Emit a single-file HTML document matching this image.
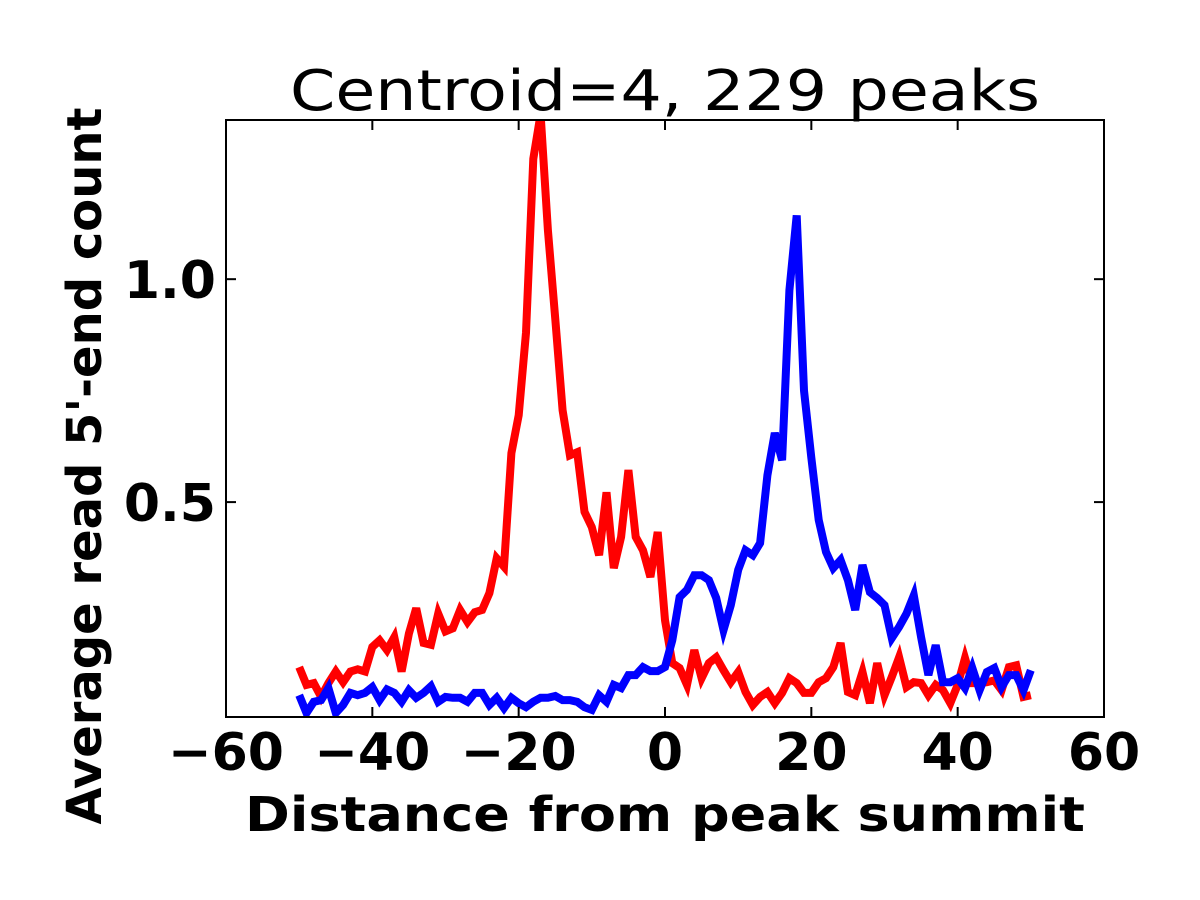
<!DOCTYPE html>
<html><head><meta charset="utf-8"><style>
html,body{margin:0;padding:0;background:#fff;}
svg{display:block;font-family:"DejaVu Sans","Liberation Sans",sans-serif;}
</style></head>
<body>
<svg id="chart" width="1200" height="900" viewBox="0 0 1200 900" xmlns="http://www.w3.org/2000/svg">
<rect width="1200" height="900" fill="#fff"/>
<text x="665" y="110" font-size="56" text-anchor="middle" textLength="750" lengthAdjust="spacingAndGlyphs">Centroid=4, 229 peaks</text>
<g id="plot"></g>
<rect x="226" y="120" width="878" height="597" fill="none" stroke="#000" stroke-width="2"/>
<text x="665" y="831" font-size="48" font-weight="bold" text-anchor="middle" textLength="840" lengthAdjust="spacingAndGlyphs">Distance from peak summit</text>
<text transform="translate(101,466) rotate(-90)" font-size="48" font-weight="bold" text-anchor="middle" textLength="717" lengthAdjust="spacingAndGlyphs">Average read 5'-end count</text>
</svg>
<script>
const xs = [];
for (let i = -50; i <= 50; i++) xs.push(i);
const redValues = [0.13,0.09,0.094,0.063,0.094,0.12,0.096,0.12,0.125,0.12,0.175,0.19,0.168,0.197,0.12,0.205,0.262,0.184,0.18,0.25,0.21,0.217,0.258,0.231,0.253,0.258,0.296,0.374,0.355,0.61,0.695,0.88,1.27,1.37,1.11,0.91,0.706,0.605,0.612,0.478,0.444,0.381,0.522,0.352,0.422,0.572,0.422,0.392,0.332,0.433,0.235,0.139,0.128,0.09,0.168,0.105,0.139,0.152,0.123,0.096,0.119,0.074,0.045,0.063,0.074,0.049,0.072,0.105,0.094,0.072,0.072,0.096,0.105,0.13,0.184,0.074,0.067,0.119,0.049,0.139,0.067,0.108,0.152,0.085,0.096,0.094,0.067,0.09,0.078,0.049,0.09,0.15,0.094,0.094,0.096,0.1,0.078,0.13,0.134,0.063,0.067];
const blueValues = [0.067,0.027,0.052,0.056,0.083,0.027,0.045,0.072,0.067,0.072,0.085,0.056,0.08,0.072,0.052,0.078,0.061,0.072,0.087,0.052,0.063,0.061,0.061,0.052,0.072,0.072,0.045,0.061,0.038,0.061,0.049,0.04,0.052,0.061,0.061,0.065,0.056,0.056,0.052,0.04,0.034,0.067,0.052,0.09,0.083,0.112,0.112,0.13,0.121,0.121,0.13,0.19,0.287,0.303,0.336,0.336,0.325,0.285,0.213,0.269,0.348,0.392,0.381,0.408,0.56,0.655,0.594,0.975,1.143,0.75,0.6,0.46,0.388,0.352,0.37,0.325,0.258,0.359,0.298,0.285,0.269,0.195,0.22,0.25,0.291,0.197,0.112,0.179,0.096,0.096,0.105,0.083,0.128,0.078,0.119,0.128,0.085,0.112,0.112,0.078,0.123];
const xTicks = [-60,-40,-20,0,20,40,60];
const xTickLabels = ["\u221260","\u221240","\u221220","0","20","40","60"];
const yTicks = [0.5,1.0];
const yTickLabels = ["0.5","1.0"];

const L=226,R=1104,T=120,B=717;
const xMin=-60,xMax=60,yMin=0.018,yMax=1.357;
const sx=v=>L+(v-xMin)/(xMax-xMin)*(R-L);
const sy=v=>B-(v-yMin)/(yMax-yMin)*(B-T);
const NS="http://www.w3.org/2000/svg";
const svg=document.getElementById('chart');
const plot=document.getElementById('plot');

const defs=document.createElementNS(NS,'defs');
const cp=document.createElementNS(NS,'clipPath');cp.setAttribute('id','clip');
const cr=document.createElementNS(NS,'rect');
cr.setAttribute('x',L);cr.setAttribute('y',T);cr.setAttribute('width',R-L);cr.setAttribute('height',B-T);
cp.appendChild(cr);defs.appendChild(cp);svg.insertBefore(defs,svg.firstChild);

function line(vals,color,name){
  const p=document.createElementNS(NS,'polyline');
  p.setAttribute('points',vals.map((v,i)=>sx(xs[i]).toFixed(1)+','+sy(v).toFixed(1)).join(' '));
  p.setAttribute('fill','none');p.setAttribute('stroke',color);p.setAttribute('stroke-width','8');
  p.setAttribute('stroke-linejoin','miter');p.setAttribute('clip-path','url(#clip)');
  
  
  plot.appendChild(p);
}
line(redValues,'#ff0000','red-series-line');
line(blueValues,'#0000ff','blue-series-line');

function seg(x1,y1,x2,y2){
  const l=document.createElementNS(NS,'line');
  l.setAttribute('x1',x1);l.setAttribute('y1',y1);l.setAttribute('x2',x2);l.setAttribute('y2',y2);
  l.setAttribute('stroke','#000');l.setAttribute('stroke-width','2');
  
  
  svg.appendChild(l);
}
xTicks.forEach((v,i)=>{
  const x=sx(v);
  seg(x,B,x,B-10);seg(x,T,x,T+10);
  const t=document.createElementNS(NS,'text');
  t.setAttribute('x',x);t.setAttribute('y',770);t.setAttribute('font-size','52');
  t.setAttribute('font-weight','bold');t.setAttribute('text-anchor','middle');
  t.textContent=xTickLabels[i];
  
  
  svg.appendChild(t);
});
yTicks.forEach((v,i)=>{
  const y=sy(v);
  seg(L,y,L+10,y);seg(R,y,R-10,y);
  const t=document.createElementNS(NS,'text');
  t.setAttribute('x',216);t.setAttribute('y',y+19);t.setAttribute('font-size','52');
  t.setAttribute('font-weight','bold');t.setAttribute('text-anchor','end');
  t.textContent=yTickLabels[i];
  
  
  svg.appendChild(t);
});
</script>
</body></html>
